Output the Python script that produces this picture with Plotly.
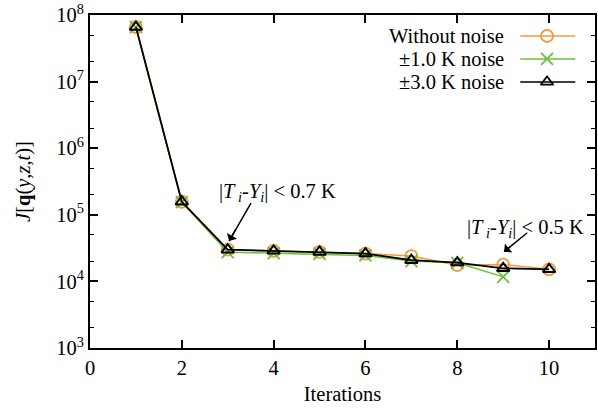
import plotly.graph_objects as go

iterations = [1, 2, 3, 4, 5, 6, 7, 8, 9, 10]
j_without_noise = [6.6e7, 1.57e5, 3.0e4, 2.88e4, 2.77e4, 2.62e4, 2.4e4, 1.75e4, 1.79e4, 1.52e4]
iterations_noise1 = [1, 2, 3, 4, 5, 6, 7, 8, 9]
j_noise_1K = [6.6e7, 1.55e5, 2.75e4, 2.65e4, 2.6e4, 2.45e4, 2.02e4, 1.9e4, 1.17e4]
j_noise_3K = [6.6e7, 1.57e5, 3.0e4, 2.88e4, 2.77e4, 2.62e4, 2.08e4, 1.92e4, 1.57e4, 1.52e4]
series_names = ["Without noise", "±1.0 K noise", "±3.0 K noise"]
x_ticks = [0, 2, 4, 6, 8, 10]
y_ticks = [1e3, 1e4, 1e5, 1e6, 1e7, 1e8]
y_ticktext = ["10<sup>3</sup>", "10<sup>4</sup>", "10<sup>5</sup>", "10<sup>6</sup>",
              "10<sup>7</sup>", "10<sup>8</sup>"]

ORANGE = "#F5993A"
GREEN = "#6CBF3C"
BLACK = "#000000"
FONT = "Liberation Serif"
FS = 20.5

fig = go.Figure()
fig.add_trace(go.Scatter(x=iterations, y=j_without_noise, mode="lines+markers",
                         line=dict(color=ORANGE, width=1.5),
                         marker=dict(symbol="circle-open", size=12, color=ORANGE, line=dict(width=1.8)),
                         showlegend=False))
fig.add_trace(go.Scatter(x=iterations_noise1, y=j_noise_1K, mode="lines+markers",
                         line=dict(color=GREEN, width=1.5),
                         marker=dict(symbol="x-thin-open", size=12, color=GREEN, line=dict(width=1.8, color=GREEN)),
                         showlegend=False))
fig.add_trace(go.Scatter(x=iterations, y=j_noise_3K, mode="lines+markers",
                         line=dict(color=BLACK, width=1.8),
                         marker=dict(symbol="triangle-up-open", size=11, color=BLACK, line=dict(width=2)),
                         showlegend=False))

# custom legend (symbol to the right of the text)
leg_colors = [ORANGE, GREEN, BLACK]
leg_symbols = ["circle-open", "x-thin-open", "triangle-up-open"]
leg_y = [0.937, 0.868, 0.799]
for name, c, s, yy in zip(series_names, leg_colors, leg_symbols, leg_y):
    fig.add_trace(go.Scatter(x=[0.852, 0.905, 0.961], y=[yy, yy, yy], xaxis="x2", yaxis="y2",
                             mode="lines", line=dict(color=c, width=1.5), showlegend=False,
                             hoverinfo="skip"))
    fig.add_trace(go.Scatter(x=[0.905], y=[yy], xaxis="x2", yaxis="y2", mode="markers",
                             marker=dict(symbol=s, size=12 if s != "triangle-up-open" else 11, color=c,
                                         line=dict(width=1.8, color=c)),
                             showlegend=False, hoverinfo="skip"))
    fig.add_annotation(xref="x2", yref="y2", x=0.823, y=yy, text=name, showarrow=False,
                       xanchor="right", yanchor="middle", font=dict(family=FONT, size=FS, color="black"))

# annotation texts
txt = "|<i>T</i><sub><i> i</i></sub>-<i>Y</i><sub><i>i</i></sub>| &lt; {} K"
fig.add_annotation(x=2.77, y=5.33, xref="x", yref="y", text=txt.format("0.7"), showarrow=False,
                   xanchor="left", yanchor="middle", font=dict(family=FONT, size=FS, color="black"))
fig.add_annotation(x=8.16, y=4.8, xref="x", yref="y", text=txt.format("0.5"), showarrow=False,
                   xanchor="left", yanchor="middle", font=dict(family=FONT, size=FS, color="black"))

# arrows: shaft as a line shape, head as a short annotation arrow
arrows = [((3.506, 0.4354), (3.03, 0.3213)), ((9.524, 0.3462), (9.02, 0.2892))]
for (tx, ty), (hx, hy) in arrows:
    fig.add_shape(type="line", xref="x", yref="y2", x0=tx, y0=ty, x1=hx, y1=hy,
                  line=dict(color="black", width=1.5))
    fig.add_annotation(xref="x", yref="y2", x=hx, y=hy, axref="x", ayref="y2",
                       ax=hx + (tx - hx) * 0.35, ay=hy + (ty - hy) * 0.35,
                       text="", showarrow=True, arrowhead=1, arrowsize=1.3,
                       arrowwidth=1.5, arrowcolor="black")

axis_common = dict(showline=True, linecolor="black", linewidth=2, mirror="ticks", ticks="inside",
                   tickcolor="black", tickwidth=1.5, showgrid=False, zeroline=False,
                   tickfont=dict(family=FONT, size=FS, color="black"))
fig.update_layout(
    width=598, height=410,
    margin=dict(l=90, r=1, t=15, b=62),
    plot_bgcolor="white", paper_bgcolor="white",
    font=dict(family=FONT, size=FS, color="black"),
    xaxis=dict(range=[0, 11], tickvals=x_ticks, ticklen=8,
               title=dict(text="Iterations", font=dict(family=FONT, size=FS), standoff=9),
               **axis_common),
    yaxis=dict(type="log", range=[3, 8.0001], tickvals=y_ticks, ticktext=y_ticktext, ticklen=8,
               minor=dict(ticks="inside", ticklen=4, tickcolor="black", tickwidth=1, showgrid=False),
               title=dict(text="<i>J</i>[<b>q</b>(<i>y</i>,<i>z</i>,<i>t</i>)]",
                          font=dict(family=FONT, size=FS), standoff=20),
               **axis_common),
    xaxis2=dict(overlaying="x", range=[0, 1], visible=False),
    yaxis2=dict(overlaying="y", range=[0, 1], visible=False),
)

fig.write_html("out.html")
